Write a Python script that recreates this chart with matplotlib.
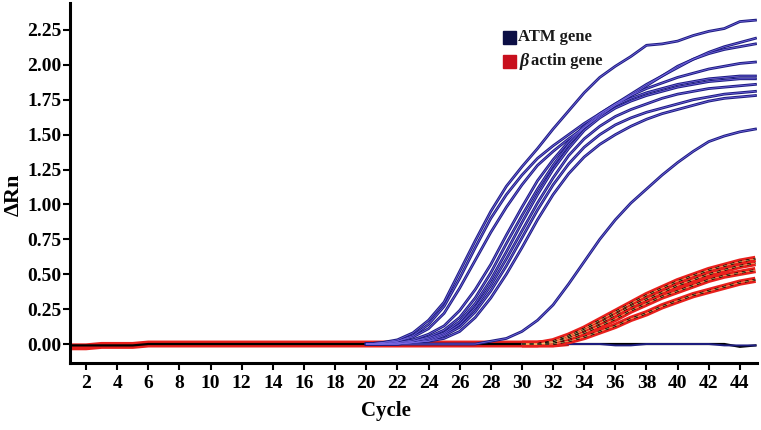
import matplotlib
matplotlib.use("Agg")
import matplotlib.pyplot as plt
from matplotlib.patches import Rectangle
import numpy as np

# --- Data
cycles = np.arange(1, 46)
rise_start = 20      # ATM curves listed from this cycle on
actin_start = 30     # actin curves listed from this cycle on
ntc_start = 30

atm_curves = [
    [0.00, 0.01, 0.03, 0.08, 0.17, 0.30, 0.52, 0.74, 0.95, 1.13, 1.27, 1.40, 1.54,
     1.67, 1.80, 1.91, 1.99, 2.06, 2.14, 2.15, 2.17, 2.21, 2.24, 2.26, 2.31, 2.32],
    [0.00, 0.01, 0.02, 0.06, 0.14, 0.27, 0.47, 0.69, 0.90, 1.07, 1.21, 1.33, 1.42,
     1.50, 1.58, 1.65, 1.72, 1.79, 1.86, 1.92, 1.98, 2.04, 2.09, 2.13, 2.16, 2.19],
    [0.00, 0.00, 0.02, 0.05, 0.11, 0.22, 0.40, 0.60, 0.80, 0.98, 1.14, 1.28, 1.38,
     1.47, 1.55, 1.63, 1.71, 1.78, 1.85, 1.92, 1.99, 2.04, 2.08, 2.11, 2.13, 2.15],
    [0.00, 0.00, 0.01, 0.03, 0.07, 0.13, 0.24, 0.39, 0.57, 0.78, 0.98, 1.17, 1.32,
     1.45, 1.56, 1.65, 1.72, 1.78, 1.83, 1.87, 1.91, 1.94, 1.97, 1.99, 2.01, 2.02],
    [0.00, 0.00, 0.01, 0.02, 0.05, 0.10, 0.19, 0.33, 0.51, 0.72, 0.92, 1.11, 1.28,
     1.43, 1.55, 1.64, 1.71, 1.76, 1.80, 1.83, 1.86, 1.88, 1.90, 1.91, 1.92, 1.92],
    [0.00, 0.00, 0.00, 0.02, 0.04, 0.08, 0.16, 0.29, 0.46, 0.66, 0.87, 1.07, 1.25,
     1.40, 1.53, 1.62, 1.69, 1.74, 1.78, 1.81, 1.84, 1.86, 1.88, 1.89, 1.90, 1.90],
    [0.00, 0.00, 0.00, 0.01, 0.03, 0.07, 0.14, 0.26, 0.42, 0.61, 0.81, 1.01, 1.19,
     1.35, 1.47, 1.56, 1.63, 1.68, 1.72, 1.76, 1.79, 1.81, 1.83, 1.84, 1.85, 1.86],
    [0.00, 0.00, 0.00, 0.01, 0.02, 0.06, 0.12, 0.23, 0.38, 0.56, 0.76, 0.96, 1.14,
     1.29, 1.41, 1.50, 1.57, 1.62, 1.66, 1.69, 1.72, 1.75, 1.77, 1.79, 1.80, 1.81],
    [0.00, 0.00, 0.00, 0.01, 0.02, 0.04, 0.09, 0.19, 0.33, 0.50, 0.69, 0.89, 1.07,
     1.22, 1.34, 1.43, 1.50, 1.56, 1.61, 1.65, 1.68, 1.71, 1.74, 1.76, 1.77, 1.78],
    [0.00, 0.00, 0.00, 0.00, 0.00, 0.00, 0.00, 0.00, 0.02, 0.04, 0.09, 0.17, 0.28,
     0.43, 0.59, 0.75, 0.89, 1.01, 1.11, 1.21, 1.30, 1.38, 1.45, 1.49, 1.52, 1.54],
]

actin_curves = [
    [0.00, 0.00, 0.02, 0.06, 0.11, 0.17, 0.23, 0.29, 0.35, 0.40, 0.45, 0.49, 0.53, 0.56, 0.59, 0.61],
    [0.00, 0.00, 0.01, 0.05, 0.10, 0.15, 0.21, 0.27, 0.32, 0.37, 0.42, 0.46, 0.50, 0.53, 0.56, 0.58],
    [0.00, 0.00, 0.01, 0.04, 0.08, 0.13, 0.18, 0.24, 0.29, 0.34, 0.38, 0.42, 0.46, 0.49, 0.51, 0.53],
    [0.00, 0.00, 0.00, 0.02, 0.05, 0.09, 0.13, 0.18, 0.22, 0.27, 0.31, 0.35, 0.38, 0.41, 0.44, 0.46],
]

baseline_black = [-0.01, -0.01, -0.01, -0.01, -0.01, 0.00, 0.00, 0.00, 0.00, 0.00,
                  0.00, 0.00, 0.00, 0.00, 0.00, 0.00, 0.00, 0.00, 0.00, 0.00,
                  0.00, 0.00, 0.00, 0.00, 0.00, 0.00, 0.00, 0.00, 0.00, 0.00,
                  0.00, 0.00, 0.00, 0.00, 0.00, 0.00, 0.00, 0.00, 0.00, 0.00,
                  0.00, 0.00, 0.00, -0.02, -0.01]
baseline_red = [-0.02, -0.02, -0.01, -0.01, -0.01, 0.00, 0.00, 0.00, 0.00, 0.00,
                0.00, 0.00, 0.00, 0.00, 0.00, 0.00, 0.00, 0.00, 0.00, 0.00,
                0.00, 0.00, 0.00, 0.00, 0.00, 0.00, 0.00, 0.00, 0.00, 0.00,
                0.00, 0.00, 0.01]
ntc_blue = [0.00, 0.00, 0.00, 0.00, 0.00, 0.00, -0.01, -0.01, 0.00, 0.00,
            0.00, 0.00, 0.00, -0.01, -0.01, -0.01]

x_ticks = list(range(2, 45, 2))
y_ticks = [0.00, 0.25, 0.50, 0.75, 1.00, 1.25, 1.50, 1.75, 2.00, 2.25]

ATM_DARK = "#1e1e82"
ATM_LIGHT = "#7a6ae6"
ACTIN_RED = "#e8201c"

plt.rcParams["font.family"] = ["Liberation Serif", "DejaVu Serif"]
plt.rcParams["font.weight"] = "bold"

W, H = 761, 430
fig = plt.figure(figsize=(W / 100, H / 100), dpi=100)
ax = fig.add_axes([70 / W, 1 - 363 / H, 687 / W, 360 / H])

# --- baseline noise
ax.plot(cycles[:len(baseline_red)], baseline_red, color=ACTIN_RED, lw=5,
        solid_capstyle="butt", zorder=2)
ax.plot(cycles, baseline_black, color="black", lw=1.6, zorder=3)
ax.plot(cycles[ntc_start - 1:], ntc_blue, color=ATM_DARK, lw=1.4, zorder=3)

# --- beta actin (red band with black dashes)
xs_actin = cycles[actin_start - 1:]
for vals in actin_curves:
    ax.plot(xs_actin, vals, color=ACTIN_RED, lw=4.5, zorder=4, solid_capstyle="butt")
for vals in actin_curves:
    ax.plot(xs_actin, vals, color="black", lw=1.4, dashes=(2.0, 2.0), zorder=5)
    ax.plot(xs_actin, vals, color="#f2d27a", lw=0.4, zorder=5)

# --- ATM curves
xs_atm = cycles[rise_start - 1:]
for vals in atm_curves:
    ax.plot(xs_atm, vals, color=ATM_DARK, lw=2.0, zorder=6)
    ax.plot(xs_atm, vals, color=ATM_LIGHT, lw=0.5, zorder=7)

ax.set_xlim(0.97, 45.1)
ax.set_ylim(-0.136, 2.443)
ax.set_xticks(x_ticks)
ax.set_yticks(y_ticks)
ax.set_yticklabels([f"{v:.2f}" for v in y_ticks])

for side in ("top", "right"):
    ax.spines[side].set_visible(False)
for side in ("left", "bottom"):
    ax.spines[side].set_linewidth(2.2)

ax.tick_params(axis="both", direction="out", width=1.5, length=5,
               labelsize=14, color="black")
ax.tick_params(axis="x", pad=4)
ax.tick_params(axis="y", pad=1)
for lab in ax.get_xticklabels() + ax.get_yticklabels():
    lab.set_fontweight("bold")

# --- axis titles, placed where the reference has them
fig.text(386 / W, 1 - 411 / H, "Cycle", fontsize=15, fontweight="bold",
         ha="center", va="center")
fig.text(14 / W, 1 - 195 / H, "\u0394Rn", fontsize=16, fontweight="bold",
         ha="center", va="center", rotation=90)

# --- legend: coloured squares with bold labels (beta drawn in italics)
fig.patches.append(Rectangle((503 / W, 1 - 43.5 / H), 13 / W, 13 / H,
                             transform=fig.transFigure, color="#0c0f45", zorder=10))
fig.patches.append(Rectangle((503 / W, 1 - 67.5 / H), 13 / W, 13 / H,
                             transform=fig.transFigure, color="#c8101e", zorder=10))
fig.text(518 / W, 1 - 37 / H, "ATM gene", fontsize=12, fontweight="bold",
         va="center", ha="left", color="#1a1a1a")
fig.text(520 / W, 1 - 61 / H, "\u03b2", fontsize=13, fontweight="bold",
         fontstyle="italic", va="center", ha="left", color="#1a1a1a")
fig.text(531 / W, 1 - 61 / H, "actin gene", fontsize=12, fontweight="bold",
         va="center", ha="left", color="#1a1a1a")

fig.savefig("out.png", dpi=100)
